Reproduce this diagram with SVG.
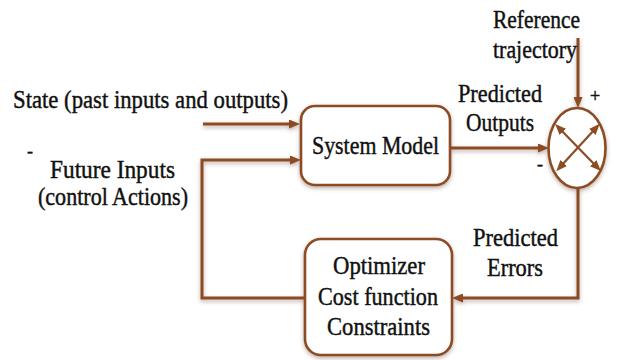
<svg xmlns="http://www.w3.org/2000/svg" width="618" height="360" viewBox="0 0 618 360">
  <defs>
    <style>
      text { font-family: 'Liberation Serif', 'Times New Roman', 'DejaVu Serif', serif; fill: #111111; stroke: #111111; stroke-width: 0.45; }
      .lbl { font-size: 26px; }
      .sign { font-size: 18px; }
      .box { fill: #ffffff; stroke: #8c4c24; stroke-width: 2.6; }
      .wire { fill: none; stroke: #8c4c24; stroke-width: 3; }
      .cross { fill: none; stroke: #8c4c24; stroke-width: 2.2; }
    </style>
    <!-- soft drop shadow shared by boxes and wires -->
    <filter id="shade" filterUnits="userSpaceOnUse" x="0" y="0" width="618" height="360">
      <feGaussianBlur in="SourceAlpha" stdDeviation="2.2"/>
      <feOffset dx="0" dy="2" result="b"/>
      <feFlood flood-color="#6b4a3a" flood-opacity="0.45"/>
      <feComposite in2="b" operator="in"/>
      <feMerge>
        <feMergeNode/>
        <feMergeNode in="SourceGraphic"/>
      </feMerge>
    </filter>
    <marker id="head" markerUnits="userSpaceOnUse" markerWidth="11" markerHeight="9" refX="4" refY="4.5" orient="auto">
      <path d="M0,0 L11,4.5 L0,9 z" fill="#8c4c24"/>
    </marker>
    <marker id="tip" markerUnits="userSpaceOnUse" markerWidth="11" markerHeight="9" refX="4" refY="4.5" orient="auto-start-reverse">
      <path d="M0,0 L11,4.5 L0,9 z" fill="#8c4c24"/>
    </marker>
  </defs>

  <rect width="618" height="360" fill="#ffffff"/>

  <!-- connectors -->
  <g id="connectors" filter="url(#shade)">
    <path class="wire" d="M203,124 H293" marker-end="url(#head)"/>
    <path class="wire" d="M305,298 H202 V160 H294" marker-end="url(#head)"/>
    <path class="wire" d="M450,148 H542" marker-end="url(#head)"/>
    <path class="wire" d="M578,38 V101" marker-end="url(#head)"/>
    <path class="wire" d="M578,188 V298 H459" marker-end="url(#head)"/>
  </g>

  <!-- plant model block -->
  <g id="system-model">
    <rect class="box" x="301" y="106" width="149" height="79" rx="14" filter="url(#shade)"/>
    <text class="lbl" x="312" y="154" textLength="127" lengthAdjust="spacingAndGlyphs">System Model</text>
  </g>

  <!-- optimizer block -->
  <g id="optimizer">
    <rect class="box" x="305" y="239" width="147" height="116" rx="16" filter="url(#shade)"/>
    <text class="lbl" x="333" y="274" textLength="92" lengthAdjust="spacingAndGlyphs">Optimizer</text>
    <text class="lbl" x="318" y="305" textLength="120" lengthAdjust="spacingAndGlyphs">Cost function</text>
    <text class="lbl" x="327" y="335" textLength="103" lengthAdjust="spacingAndGlyphs">Constraints</text>
  </g>

  <!-- comparator (summing junction) -->
  <g id="comparator">
    <ellipse cx="577" cy="148" rx="28.5" ry="40" fill="#ffffff" stroke="#8c4c24" stroke-width="2.6" filter="url(#shade)"/>
    <path class="cross" d="M560,129 L596,166" marker-start="url(#tip)" marker-end="url(#tip)"/>
    <path class="cross" d="M595,129 L561,166" marker-start="url(#tip)" marker-end="url(#tip)"/>
    <text class="sign" x="590" y="102">+</text>
    <text class="sign" x="537" y="170">-</text>
  </g>

  <!-- input labels -->
  <g id="state-label">
    <text class="lbl" x="13" y="108" textLength="275" lengthAdjust="spacingAndGlyphs">State (past inputs and outputs)</text>
  </g>
  <g id="future-inputs-label">
    <text class="sign" x="27" y="157">-</text>
    <text class="lbl" x="50" y="178" textLength="125" lengthAdjust="spacingAndGlyphs">Future Inputs</text>
    <text class="lbl" x="38" y="205" textLength="150" lengthAdjust="spacingAndGlyphs">(control Actions)</text>
  </g>
  <g id="reference-label">
    <text class="lbl" x="493" y="28" textLength="87" lengthAdjust="spacingAndGlyphs">Reference</text>
    <text class="lbl" x="493" y="58" textLength="84" lengthAdjust="spacingAndGlyphs">trajectory</text>
  </g>
  <g id="predicted-outputs-label">
    <text class="lbl" x="458" y="102" textLength="84" lengthAdjust="spacingAndGlyphs">Predicted</text>
    <text class="lbl" x="466" y="131" textLength="68" lengthAdjust="spacingAndGlyphs">Outputs</text>
  </g>
  <g id="predicted-errors-label">
    <text class="lbl" x="473" y="246" textLength="85" lengthAdjust="spacingAndGlyphs">Predicted</text>
    <text class="lbl" x="487" y="276" textLength="56" lengthAdjust="spacingAndGlyphs">Errors</text>
  </g>
</svg>
